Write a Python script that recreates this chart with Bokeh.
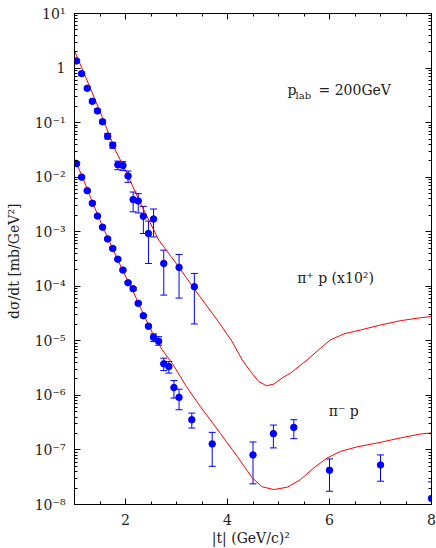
from bokeh.plotting import figure
from bokeh.models import (ColumnDataSource, Whisker, TeeHead, FixedTicker, LinearAxis,
                          LogAxis, Label, CustomJSTickFormatter, Range1d)
from bokeh.embed import file_html
from bokeh.resources import INLINE

# ---------------- data ----------------
# pi+ p (x10^2) measurements
pip_t = [1.04, 1.14, 1.25, 1.35, 1.45, 1.55, 1.65, 1.75, 1.85, 1.95, 2.05,
         2.15, 2.25, 2.35, 2.45, 2.55, 2.75, 3.05, 3.35]
pip_y = [1.35, 0.79, 0.426, 0.246, 0.164, 0.1035, 0.0564, 0.0386, 0.0169, 0.0164, 0.0105,
         3.88e-3, 3.66e-3, 1.92e-3, 9.27e-4, 1.71e-3, 2.62e-4, 2.22e-4, 9.8e-5]
pip_lo = [1.27, 0.74, 0.40, 0.231, 0.152, 0.096, 0.050, 0.034, 0.0137, 0.0133, 8.04e-3,
          2.32e-3, 2.21e-3, 9.27e-4, 2.62e-4, 8.04e-4, 6.9e-5, 6.08e-5, 2.04e-5]
pip_hi = [1.43, 0.84, 0.45, 0.262, 0.177, 0.111, 0.0635, 0.0435, 0.0197, 0.0192, 0.01294,
          5.34e-3, 4.99e-3, 2.92e-3, 1.57e-3, 2.61e-3, 4.59e-4, 3.83e-4, 1.72e-4]

# pi- p measurements
pim_t = [1.04, 1.14, 1.25, 1.35, 1.45, 1.55, 1.65, 1.75, 1.85, 1.95, 2.05, 2.15, 2.25,
         2.35, 2.45, 2.55, 2.65, 2.75, 2.85, 2.95, 3.05, 3.30, 3.70, 4.50, 4.90, 5.30,
         6.00, 7.00, 8.00]
pim_y = [1.77e-2, 1.00e-2, 5.66e-3, 3.32e-3, 1.94e-3, 1.21e-3, 7.38e-4, 4.93e-4, 3.14e-4,
         1.98e-4, 1.16e-4, 9.0e-5, 4.86e-5, 2.89e-5, 1.85e-5, 1.16e-5, 9.8e-6, 3.79e-6,
         3.38e-6, 1.39e-6, 9.2e-7, 3.58e-7, 1.29e-7, 8.1e-8, 1.99e-7, 2.59e-7, 4.24e-8,
         5.3e-8, 1.29e-8]
pim_lo = [1.68e-2, 0.95e-2, 5.38e-3, 3.15e-3, 1.84e-3, 1.15e-3, 7.0e-4, 4.68e-4, 2.98e-4,
          1.88e-4, 1.10e-4, 8.5e-5, 4.6e-5, 2.74e-5, 1.74e-5, 9.66e-6, 8.3e-6, 2.85e-6,
          2.56e-6, 8.93e-7, 5.46e-7, 2.52e-7, 5.01e-8, 2.39e-8, 1.09e-7, 1.61e-7, 1.75e-8,
          2.67e-8, 5.0e-9]
pim_hi = [1.86e-2, 1.05e-2, 5.94e-3, 3.49e-3, 2.04e-3, 1.27e-3, 7.75e-4, 5.18e-4, 3.30e-4,
          2.08e-4, 1.22e-4, 9.5e-5, 5.1e-5, 3.04e-5, 1.96e-5, 1.34e-5, 1.19e-5, 4.81e-6,
          4.17e-6, 1.87e-6, 1.30e-6, 4.74e-7, 2.10e-7, 1.40e-7, 2.86e-7, 3.58e-7, 6.84e-8,
          8.1e-8, 2.60e-8]

# model curves
pip_curve_t = [1.000, 1.314, 1.549, 1.784, 2.000, 2.294, 2.653, 3.045, 3.339, 3.798, 4.092,
               4.288, 4.451, 4.614, 4.765, 4.908, 5.104, 5.235, 5.563, 5.824, 6.020, 6.280,
               6.608, 7.000, 7.392, 7.784, 8.000]
pip_curve_y = [2.08, 0.420, 0.124, 3.37e-2, 1.33e-2, 3.32e-3, 7.0e-4, 2.27e-4, 9.16e-5,
               2.41e-5, 9.66e-6, 4.48e-6, 2.74e-6, 1.79e-6, 1.50e-6, 1.61e-6, 2.19e-6,
               2.56e-6, 4.48e-6, 7.33e-6, 1.04e-5, 1.34e-5, 1.58e-5, 1.95e-5, 2.34e-5,
               2.65e-5, 2.79e-5]

pim_curve_t = [1.000, 1.143, 1.353, 1.549, 1.745, 1.941, 2.137, 2.333, 2.529, 2.720, 2.922,
               3.196, 3.471, 3.863, 4.190, 4.484, 4.680, 4.908, 5.171, 5.431, 5.692, 5.955,
               6.216, 6.543, 7.000, 7.392, 7.784, 8.000]
pim_curve_y = [2.18e-2, 1.08e-2, 3.46e-3, 1.26e-3, 4.99e-4, 1.98e-4, 8.53e-5, 3.37e-5,
               1.39e-5, 6.82e-6, 3.79e-6, 1.44e-6, 6.19e-7, 1.99e-7, 7.64e-8, 3.08e-8,
               2.11e-8, 1.88e-8, 2.07e-8, 2.86e-8, 4.69e-8, 7.14e-8, 9.42e-8, 1.14e-7,
               1.38e-7, 1.66e-7, 1.96e-7, 2.05e-7]

x_major = [2, 4, 6, 8]
x_minor = [1.5, 2.5, 3, 3.5, 4.5, 5, 5.5, 6.5, 7, 7.5]
y_major = [1e-8, 1e-7, 1e-6, 1e-5, 1e-4, 1e-3, 1e-2, 1e-1, 1, 10]
y_minor = [m * d for d in y_major[:-1] for m in range(2, 10)]

FONT = "DejaVu Serif"

p = figure(width=436, height=548, x_range=Range1d(1, 8), y_range=Range1d(1e-8, 10),
           y_axis_type="log", output_backend="svg", toolbar_location=None,
           min_border_left=74, min_border_right=5, min_border_top=13, min_border_bottom=43)
p.xgrid.visible = False
p.ygrid.visible = False
p.outline_line_color = "black"
p.background_fill_color = "white"
p.border_fill_color = "white"

sup_code = """
const e = Math.round(Math.log10(tick));
if (e === 0) return "1";
const sup = {"-":"\\u207b","0":"\\u2070","1":"\\u00b9","2":"\\u00b2","3":"\\u00b3",
             "4":"\\u2074","5":"\\u2075","6":"\\u2076","7":"\\u2077","8":"\\u2078","9":"\\u2079"};
return "10" + String(e).split("").map(c => sup[c]).join("");
"""

xa = p.below[0]
ya = p.left[0]
for ax in (xa, ya):
    ax.major_tick_in = 6
    ax.major_tick_out = 0
    ax.minor_tick_in = 3
    ax.minor_tick_out = 0
    ax.axis_line_color = "black"
    ax.major_tick_line_color = "black"
    ax.minor_tick_line_color = "black"
    ax.major_label_text_font = FONT
    ax.major_label_text_font_size = "14px"
    ax.major_label_text_color = "#222222"
    ax.axis_label_text_font = FONT
    ax.axis_label_text_font_size = "14px"
    ax.axis_label_text_font_style = "normal"
    ax.axis_label_text_color = "#222222"

xa.ticker = FixedTicker(ticks=x_major, minor_ticks=x_minor)
xa.major_label_standoff = 9
xa.axis_label = "|t|  (GeV/c)²"
xa.axis_label_standoff = 2

ya.ticker = FixedTicker(ticks=y_major, minor_ticks=y_minor)
ya.formatter = CustomJSTickFormatter(code=sup_code)
ya.major_label_standoff = 9
ya.axis_label = "dσ/dt  [mb/GeV²]"
ya.axis_label_standoff = 10

top = LinearAxis(ticker=FixedTicker(ticks=x_major, minor_ticks=x_minor),
                 formatter=CustomJSTickFormatter(code="return ''"))
right = LogAxis(ticker=FixedTicker(ticks=y_major, minor_ticks=y_minor),
                formatter=CustomJSTickFormatter(code="return ''"))
for ax in (top, right):
    ax.major_tick_in = 6
    ax.major_tick_out = 0
    ax.minor_tick_in = 3
    ax.minor_tick_out = 0
    ax.major_label_text_font_size = "0px"
    ax.major_label_standoff = 0
    ax.axis_line_color = "black"
p.add_layout(top, "above")
p.add_layout(right, "right")

# curves
p.line(pip_curve_t, pip_curve_y, line_color="red", line_width=1)
p.line(pim_curve_t, pim_curve_y, line_color="red", line_width=1)

# error bars + points
for t, y, lo, hi in ((pip_t, pip_y, pip_lo, pip_hi), (pim_t, pim_y, pim_lo, pim_hi)):
    src = ColumnDataSource(dict(t=t, y=y, lo=lo, hi=hi))
    w = Whisker(source=src, base="t", lower="lo", upper="hi", line_color="blue", line_width=1,
                upper_head=TeeHead(size=7, line_color="blue", line_width=1),
                lower_head=TeeHead(size=7, line_color="blue", line_width=1))
    p.add_layout(w)
    p.scatter("t", "y", source=src, marker="circle", size=6.5, fill_color="blue",
              line_color="blue")

# annotations
lab_kw = dict(text_font=FONT, text_color="#222222", text_baseline="alphabetic")
p.add_layout(Label(x=5.176, y=0.398, text="p", text_font_size="14px", **lab_kw))
p.add_layout(Label(x=5.333, y=0.313, text="lab", text_font_size="10px", **lab_kw))
p.add_layout(Label(x=5.784, y=0.398, text="=  200GeV", text_font_size="14px", **lab_kw))
p.add_layout(Label(x=5.366, y=1.41e-4, text="π⁺  p  (x10²)", text_font_size="14px", **lab_kw))
p.add_layout(Label(x=5.986, y=5.08e-7, text="π⁻  p", text_font_size="14px", **lab_kw))

open("out.html", "w").write(file_html(p, INLINE))
